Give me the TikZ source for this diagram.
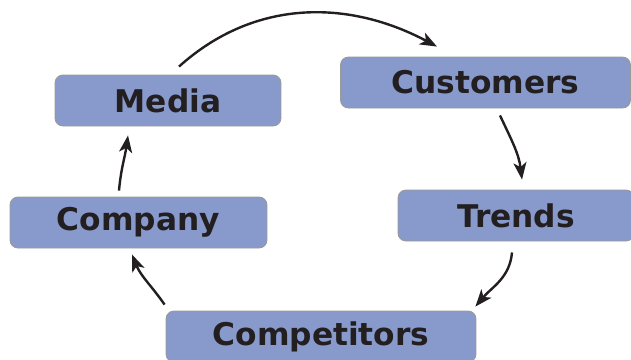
\documentclass[tikz,border=0pt]{standalone}
\usepackage{fontspec}
\setmainfont{DejaVu Sans}
\usetikzlibrary{arrows.meta}
\definecolor{boxblue}{HTML}{8899CC}
\definecolor{boxline}{HTML}{9A9A9A}
\definecolor{ink}{HTML}{231F20}
\tikzset{
    mybox/.style = {rectangle, rounded corners=0.16cm, draw=boxline, line width=0.5pt, fill=boxblue,
                    minimum height=1.02cm, inner sep=0pt, text=ink, font=\bfseries\fontsize{17.8}{20}\selectfont},
    edgen/.style = {-{Stealth[length=0.34cm,width=0.26cm,inset=0.09cm]}, line width=0.048cm, ink}, % cycle arrow
}

\begin{document}
\begin{tikzpicture}[x=0.02cm,y=0.02cm]
  \useasboundingbox (0,0) rectangle (631,-359);

  \node[mybox, minimum width=4.52cm] at (168,-100.5) (media) {Media};
  \node[mybox, minimum width=5.8cm]  at (485.5,-82.5) (cust) {Customers};
  \node[mybox, minimum width=4.72cm] at (516,-215.5) (trends) {Trends};
  \node[mybox, minimum width=6.2cm]  at (321,-336.5) (comp) {Competitors};
  \node[mybox, minimum width=5.14cm] at (138.5,-222.5) (company) {Company};

  \draw[edgen] ([shift={(11,8)}]media.north) to[out=42,in=152] ([shift={(-48.5,10)}]cust.north);
  \draw[edgen] ([shift={(14.5,-7)}]cust.south) to[out=-65,in=97] ([shift={(6,10)}]trends.north);
  \draw[edgen] ([shift={(-4,-11)}]trends.south) to[out=-95,in=50] ([shift={(-1,4)}]comp.north east);
  \draw[edgen] ([shift={(-1,6)}]comp.north west) to[out=125,in=-68] ([shift={(-6.5,-6)}]company.south);
  \draw[edgen] ([shift={(-19.5,6)}]company.north) to[out=85,in=-98] ([shift={(-40,-9)}]media.south);

\end{tikzpicture}
\end{document}
